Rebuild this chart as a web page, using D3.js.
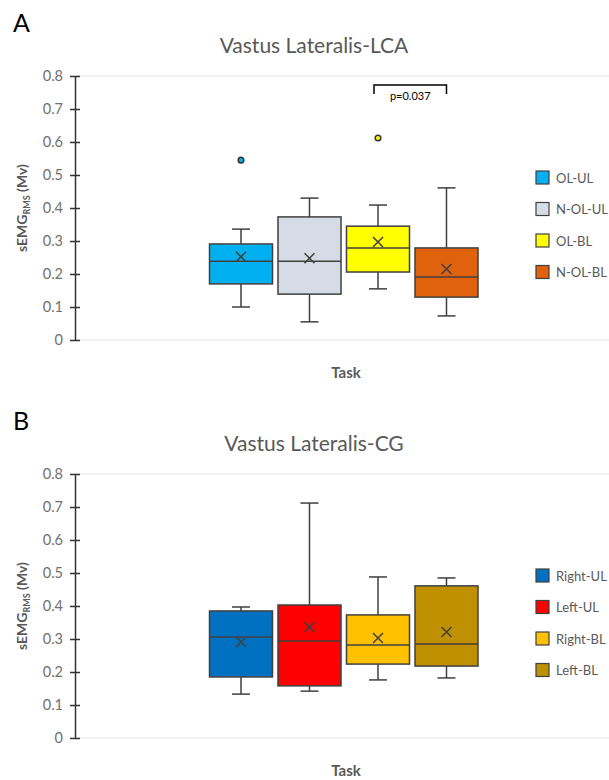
<!DOCTYPE html>
<html>
<head>
<meta charset="utf-8">
<script src="https://cdn.jsdelivr.net/npm/d3@7"></script>
<style>
  body { margin: 0; background: #fff; }
  text { font-family: Lato, "Open Sans", sans-serif; }
</style>
</head>
<body>
<div id="chart"></div>
<script>
var width = 609;
var height = 780;

// Panel A data
var seriesA = ["OL-UL", "N-OL-UL", "OL-BL", "N-OL-BL"];
var colorsA = ["#00B0F0", "#D6DCE5", "#FFFF00", "#E0620D"];
var lowA = [0.100, 0.055, 0.155, 0.073];
var q1A = [0.170, 0.139, 0.206, 0.130];
var medA = [0.239, 0.239, 0.279, 0.191];
var q3A = [0.291, 0.373, 0.345, 0.279];
var highA = [0.336, 0.430, 0.409, 0.461];
var meanA = [0.252, 0.248, 0.297, 0.215];
var outA = [[0.545], [], [0.612], []];

// Panel B data
var seriesB = ["Right-UL", "Left-UL", "Right-BL", "Left-BL"];
var colorsB = ["#0070C0", "#FF0000", "#FFC000", "#BF9000"];
var lowB = [0.133, 0.142, 0.176, 0.182];
var q1B = [0.185, 0.158, 0.224, 0.218];
var medB = [0.306, 0.294, 0.282, 0.285];
var q3B = [0.385, 0.403, 0.373, 0.461];
var highB = [0.397, 0.712, 0.488, 0.485];
var meanB = [0.291, 0.336, 0.303, 0.321];
var outB = [[], [], [], []];

var yTicks = [0, 0.1, 0.2, 0.3, 0.4, 0.5, 0.6, 0.7, 0.8];
var yTickLabels = ["0", "0.1", "0.2", "0.3", "0.4", "0.5", "0.6", "0.7", "0.8"];

var svg = d3.select("#chart")
			.append("svg")
			.attr("width", width)
			.attr("height", height);

function drawPanel(top, letter, title, series, colors, low, q1, med, q3, high, mean, outs, sig)
{
	var g = svg.append("g").attr("transform", "translate(0," + top + ")");
	var y = d3.scaleLinear().domain([0, 0.8]).range([340, 76]);
	var x = d3.scaleBand().domain(series).range([209.5, 478]).paddingInner(0.08);
	var bw = x.bandwidth();

	g.append("text").attr("x", 13).attr("y", 32)
		.attr("font-size", 25).attr("fill", "#000").text(letter);

	g.append("text").attr("x", 314).attr("y", 53).attr("text-anchor", "middle")
		.attr("font-size", 21).attr("fill", "#595959").text(title);

	// gridlines top / bottom
	[0, 0.8].forEach(function(v) {
		g.append("line").attr("x1", 75).attr("x2", width)
			.attr("y1", y(v)).attr("y2", y(v))
			.attr("stroke", "#e6e6e6").attr("stroke-width", 1);
	});

	// y axis
	var axis = d3.axisLeft(y).tickValues(yTicks)
		.tickFormat(function(d, i) { return yTickLabels[i]; })
		.tickSizeInner(5).tickSizeOuter(0).tickPadding(7);
	var ga = g.append("g").attr("transform", "translate(75,0)").call(axis);
	ga.select(".domain").attr("stroke", "#333").attr("stroke-width", 1.5);
	ga.selectAll(".tick line").attr("x1", -5).attr("x2", 5)
		.attr("stroke", "#333").attr("stroke-width", 1.5);
	ga.selectAll(".tick text").attr("font-size", 14.5).attr("fill", "#707070")
		.attr("font-family", "Lato, sans-serif");

	// y label
	var yl = g.append("text").attr("transform", "translate(27," + ((y(0) + y(0.8)) / 2) + ") rotate(-90)")
		.attr("text-anchor", "middle").attr("font-size", 14).attr("font-weight", "bold").attr("fill", "#595959");
	yl.append("tspan").text("sEMG");
	yl.append("tspan").attr("font-size", 9).attr("dy", 3).text("RMS");
	yl.append("tspan").attr("dy", -3).text(" (Mv)");

	g.append("text").attr("x", 346).attr("y", 378).attr("text-anchor", "middle")
		.attr("font-size", 15).attr("font-weight", "bold").attr("fill", "#595959").text("Task");

	var boxes = g.selectAll(".box").data(series).enter().append("g");
	boxes.each(function(s, i) {
		var b = d3.select(this);
		var cx = x(s) + bw / 2;
		b.append("line").attr("x1", cx).attr("x2", cx).attr("y1", y(high[i])).attr("y2", y(q3[i]))
			.attr("stroke", "#404040").attr("stroke-width", 1.5);
		b.append("line").attr("x1", cx).attr("x2", cx).attr("y1", y(q1[i])).attr("y2", y(low[i]))
			.attr("stroke", "#404040").attr("stroke-width", 1.5);
		b.append("line").attr("x1", cx - 9).attr("x2", cx + 9).attr("y1", y(high[i])).attr("y2", y(high[i]))
			.attr("stroke", "#404040").attr("stroke-width", 1.5);
		b.append("line").attr("x1", cx - 9).attr("x2", cx + 9).attr("y1", y(low[i])).attr("y2", y(low[i]))
			.attr("stroke", "#404040").attr("stroke-width", 1.5);
		b.append("rect").attr("x", x(s)).attr("width", bw)
			.attr("y", y(q3[i])).attr("height", y(q1[i]) - y(q3[i]))
			.attr("fill", colors[i]).attr("stroke", "#404040").attr("stroke-width", 1.5);
		b.append("line").attr("x1", x(s)).attr("x2", x(s) + bw).attr("y1", y(med[i])).attr("y2", y(med[i]))
			.attr("stroke", "#404040").attr("stroke-width", 1.5);
		var my = y(mean[i]);
		b.append("path").attr("d", "M" + (cx - 5) + "," + (my - 5) + "L" + (cx + 5) + "," + (my + 5) +
			"M" + (cx - 5) + "," + (my + 5) + "L" + (cx + 5) + "," + (my - 5))
			.attr("stroke", "#404040").attr("stroke-width", 1.5);
		outs[i].forEach(function(v) {
			b.append("circle").attr("cx", cx).attr("cy", y(v)).attr("r", 2.8)
				.attr("fill", colors[i]).attr("stroke", "#333").attr("stroke-width", 1.5);
		});
	});

	if (sig)
	{
		var x1 = x(series[sig.a]) + bw / 2 - 4, x2 = x(series[sig.b]) + bw / 2;
		g.append("path").attr("d", "M" + x1 + ",94V85H" + x2 + "V94")
			.attr("fill", "none").attr("stroke", "#000").attr("stroke-width", 1.5);
		g.append("text").attr("x", (x1 + x2) / 2).attr("y", 100).attr("text-anchor", "middle")
			.attr("font-size", 11).attr("fill", "#000").text(sig.text);
	}

	// legend
	var lg = g.selectAll(".leg").data(series).enter().append("g")
		.attr("transform", function(d, i) { return "translate(536," + (171 + i * 31.5) + ")"; });
	lg.append("rect").attr("width", 13).attr("height", 13)
		.attr("fill", function(d, i) { return colors[i]; })
		.attr("stroke", "#404040").attr("stroke-width", 1.2);
	lg.append("text").attr("x", 20).attr("y", 11.5).attr("font-size", 13).attr("fill", "#595959")
		.text(function(d) { return d; });
}

drawPanel(0, "A", "Vastus Lateralis-LCA", seriesA, colorsA, lowA, q1A, medA, q3A, highA, meanA, outA,
	{ a: 2, b: 3, text: "p=0.037" });
drawPanel(398, "B", "Vastus Lateralis-CG", seriesB, colorsB, lowB, q1B, medB, q3B, highB, meanB, outB, null);
</script>
</body>
</html>
